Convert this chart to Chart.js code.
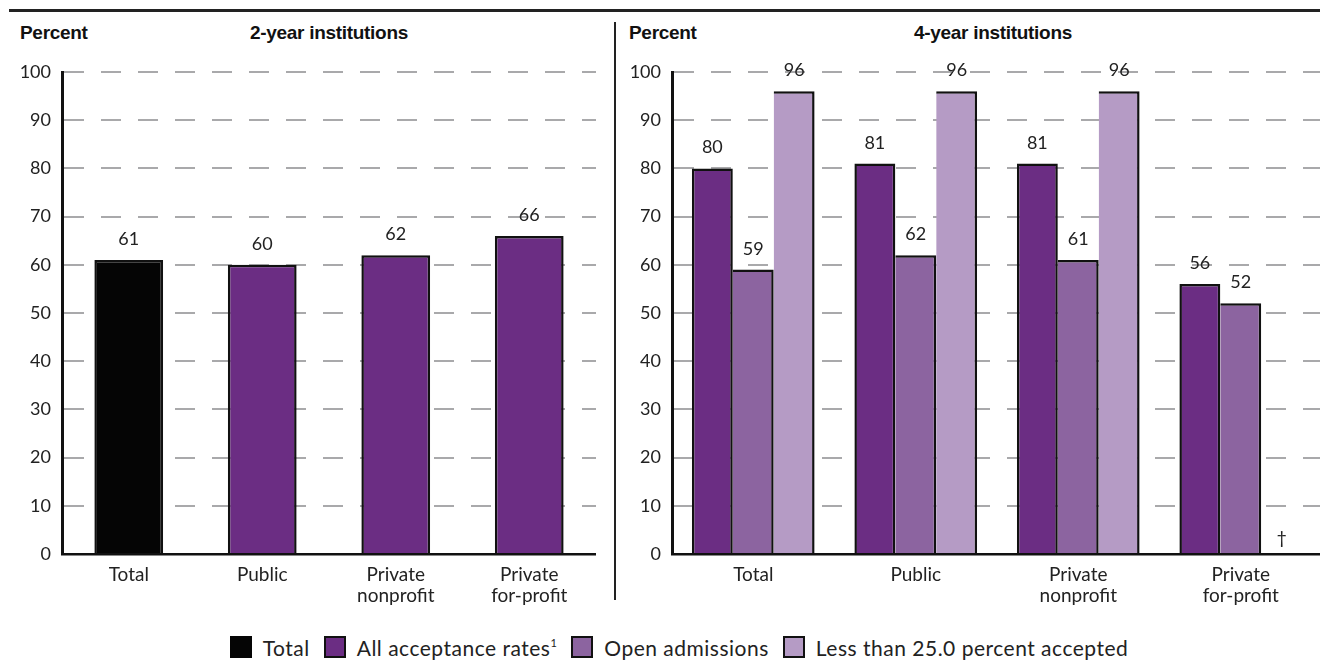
<!DOCTYPE html>
<html>
<head>
<meta charset="utf-8">
<script src="https://cdn.jsdelivr.net/npm/chart.js@4.4.1/dist/chart.umd.min.js"></script>
<style>
  html, body { margin: 0; padding: 0; background: #fff; }
  body { width: 1320px; height: 660px; position: relative; overflow: hidden;
         font-family: Lato, "Noto Sans", sans-serif; color: #1a1a1a; }
  .rule { position: absolute; left: 9px; right: 0; top: 9px; height: 3px; background: #222; }
  .divider { position: absolute; left: 614px; top: 22px; width: 2px; height: 578px; background: #222; }
  .head { position: absolute; top: 22px; font: bold 19px "Liberation Sans", Arial, sans-serif; white-space: nowrap;
          color: #111; letter-spacing: -0.3px; }
  .panel { position: absolute; }
  #legend { position: absolute; left: 0; top: 635px; height: 24px; width: 1320px; box-sizing: border-box;
            padding-left: 38px; display: flex; justify-content: center;
            align-items: center; font-size: 21px; letter-spacing: 0.5px; color: #222; }
  #legend .item { display: flex; align-items: center; margin: 0 7px; }
  #legend .sw { width: 18px; height: 18px; border: 2.5px solid #111; margin-right: 11px; }
  #legend sup { font-size: 11px; vertical-align: 9px; }
</style>
</head>
<body>
<div class="rule"></div>
<div class="divider"></div>
<div class="head" style="left:20px;">Percent</div>
<div class="head" style="left:329px;transform:translateX(-50%);">2-year institutions</div>
<div class="head" style="left:629px;">Percent</div>
<div class="head" style="left:993px;transform:translateX(-50%);">4-year institutions</div>

<div class="panel" style="left:20px;top:60px;"><canvas id="twoYear" width="576" height="554"></canvas></div>
<div class="panel" style="left:630px;top:60px;"><canvas id="fourYear" width="692" height="554"></canvas></div>

<div id="legend"></div>

<script>
// Control categories shared by both panels
const categories = ['Total', 'Public', ['Private', 'nonprofit'], ['Private', 'for-profit']];

// 2-year institutions: overall acceptance rate by control
const twoYearRates = [61, 60, 62, 66];

// 4-year institutions: acceptance rate by admissions selectivity
const fourYearAll = [80, 81, 81, 56];
const fourYearOpen = [59, 62, 61, 52];
const fourYearSelective = [96, 96, 96, null]; // null: reporting standards not met

const yTicks = [0, 10, 20, 30, 40, 50, 60, 70, 80, 90, 100];

const seriesNames = ['Total', 'All acceptance rates', 'Open admissions', 'Less than 25.0 percent accepted'];
const colors = {
  total: '#050505',
  all: '#6b2d83',
  open: '#8c64a0',
  selective: '#b59bc5'
};

const fontFamily = 'Lato, "Noto Sans", sans-serif';

// Writes each bar's value above it, or a dagger where no value is reported
const valueLabels = {
  id: 'valueLabels',
  afterDatasetsDraw(chart) {
    const ctx = chart.ctx;
    const zeroY = chart.scales.y.getPixelForValue(0);
    ctx.save();
    ctx.font = '18px ' + fontFamily;
    ctx.fillStyle = '#222';
    ctx.textAlign = 'center';
    ctx.textBaseline = 'alphabetic';
    chart.data.datasets.forEach((ds, i) => {
      const meta = chart.getDatasetMeta(i);
      meta.data.forEach((bar, j) => {
        const v = ds.data[j];
        if (v === null || v === undefined) {
          ctx.fillText('\u2020', bar.x, zeroY - 10);
        } else {
          ctx.fillText(String(v), bar.x, bar.y - 15);
        }
      });
    });
    ctx.restore();
  }
};

function axisOptions() {
  return {
    x: {
      grid: { display: false, drawTicks: false },
      border: { display: true, color: '#111', width: 2.5 },
      ticks: { font: { size: 19, family: fontFamily, lineHeight: 1.12 }, color: '#222',
               padding: 10, maxRotation: 0, autoSkip: false },
      afterFit(scale) { scale.height = 60; }
    },
    y: {
      min: 0, max: 100,
      afterBuildTicks(scale) { scale.ticks = yTicks.map(v => ({ value: v })); },
      grid: {
        drawTicks: false, lineWidth: 2,
        color: ctx => (ctx.tick && ctx.tick.value === 0) ? 'rgba(0,0,0,0)' : '#a9a9ab'
      },
      border: { display: true, color: '#111', width: 3, dash: [20, 17] },
      ticks: { font: { size: 18, family: fontFamily }, color: '#222', padding: 11 },
      afterFit(scale) { scale.width = 42; scale.paddingTop = 0; scale.paddingBottom = 0; }
    }
  };
}

const common = {
  responsive: false,
  animation: false,
  layout: { padding: { top: 12, right: 0, bottom: 0, left: 0 } },
  plugins: { legend: { display: false }, tooltip: { enabled: false } }
};

// Outlines: first bar of a group carries both sides, later bars only the right side,
// so touching bars share a single edge
const firstEdge = { top: 2.5, left: 2.5, right: 2.5, bottom: 0 };
const nextEdge = { top: 2.5, left: 0, right: 2.5, bottom: 0 };

new Chart(document.getElementById('twoYear'), {
  type: 'bar',
  data: {
    labels: categories,
    datasets: [{
      label: seriesNames[1],
      data: twoYearRates,
      backgroundColor: [colors.total, colors.all, colors.all, colors.all],
      borderColor: '#111',
      borderWidth: firstEdge,
      borderSkipped: false,
      categoryPercentage: 1.0,
      barPercentage: 0.515
    }]
  },
  options: Object.assign({}, common, { scales: axisOptions() }),
  plugins: [valueLabels]
});

new Chart(document.getElementById('fourYear'), {
  type: 'bar',
  data: {
    labels: categories,
    datasets: [
      { label: seriesNames[1], data: fourYearAll, backgroundColor: colors.all, borderWidth: firstEdge },
      { label: seriesNames[2], data: fourYearOpen, backgroundColor: colors.open, borderWidth: nextEdge },
      { label: seriesNames[3], data: fourYearSelective, backgroundColor: colors.selective, borderWidth: nextEdge }
    ].map(d => Object.assign(d, { borderColor: '#111', borderSkipped: false, categoryPercentage: 0.755, barPercentage: 1.0 }))
  },
  options: Object.assign({}, common, { scales: axisOptions() }),
  plugins: [valueLabels]
});

// Shared legend under both panels
const legendEntries = [
  { name: seriesNames[0], color: colors.total, note: '' },
  { name: seriesNames[1], color: colors.all, note: '1' },
  { name: seriesNames[2], color: colors.open, note: '' },
  { name: seriesNames[3], color: colors.selective, note: '' }
];
const legend = document.getElementById('legend');
legendEntries.forEach(e => {
  const item = document.createElement('div');
  item.className = 'item';
  const sw = document.createElement('span');
  sw.className = 'sw';
  sw.style.background = e.color;
  if (e.color === colors.total) sw.style.borderColor = colors.total;
  const txt = document.createElement('span');
  txt.textContent = e.name;
  if (e.note) {
    const sup = document.createElement('sup');
    sup.textContent = e.note;
    txt.appendChild(sup);
  }
  item.appendChild(sw);
  item.appendChild(txt);
  legend.appendChild(item);
});
</script>
</body>
</html>
